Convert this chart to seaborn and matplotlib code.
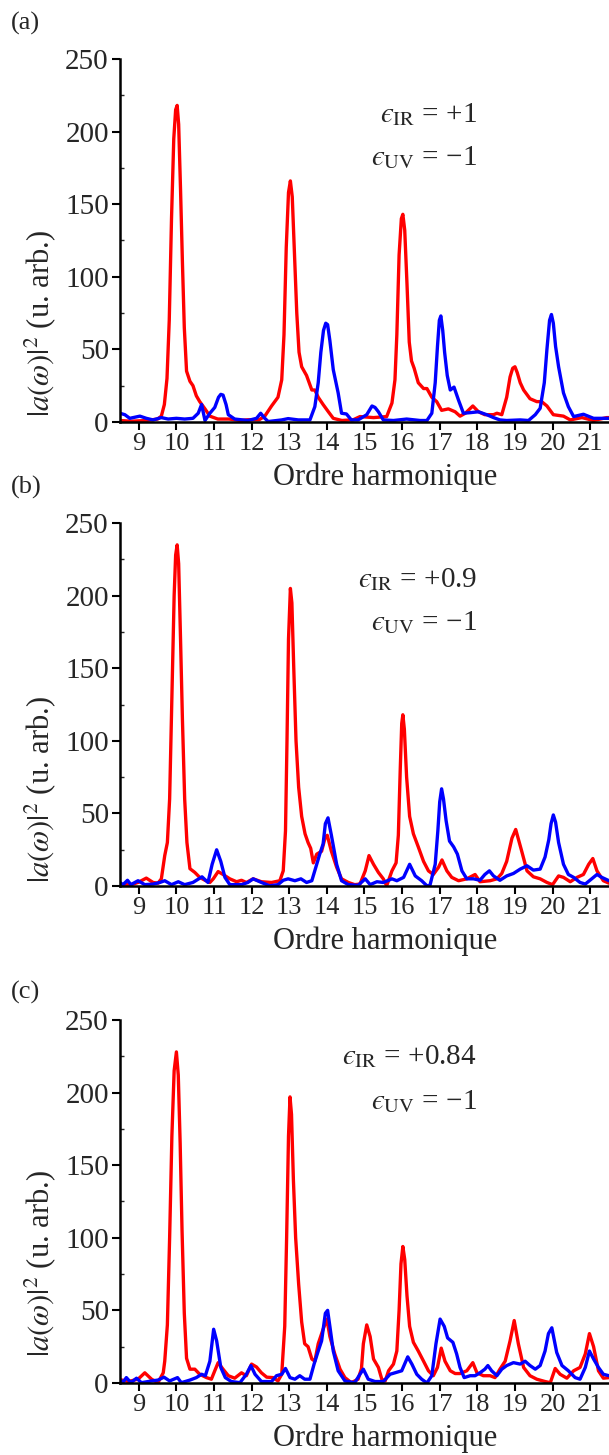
import numpy as np
import pandas as pd
import matplotlib.pyplot as plt
import seaborn as sns
from matplotlib.ticker import MultipleLocator

# panel (a): eps_IR = +1
red_a_x = [8.5, 8.8, 9.2, 9.5, 9.6, 9.68, 9.75, 9.81, 9.87, 9.93, 9.98, 10.02, 10.06, 10.11, 10.16, 10.21, 10.27, 10.36, 10.44, 10.53,
           10.62, 10.76, 10.89, 11.1, 11.4, 11.7, 11.9, 12.2, 12.35, 12.53, 12.7, 12.8, 12.86, 12.92, 12.98, 13.03, 13.08, 13.14, 13.2, 13.26,
           13.33, 13.46, 13.6, 13.68, 13.77, 13.9, 14.04, 14.17, 14.4, 14.7, 14.88, 15.24, 15.59, 15.73, 15.81, 15.86, 15.92, 15.98, 16.02, 16.07,
           16.13, 16.19, 16.25, 16.32, 16.43, 16.57, 16.66, 16.79, 16.92, 17.05, 17.23, 17.41, 17.54, 17.68, 17.88, 18.03, 18.2, 18.43, 18.52, 18.65,
           18.78, 18.87, 18.94, 19.0, 19.06, 19.14, 19.23, 19.4, 19.58, 19.71, 19.85, 20.02, 20.29, 20.47, 20.78, 21.09, 21.44, 21.5]
red_a_y = [1, 0.5, 1, 2, 4, 12, 30, 70, 140, 195, 215, 218, 205, 160, 110, 65, 35, 28, 25, 18,
           14, 9, 4, 2, 2, 1, 1.5, 1.5, 4, 11, 17, 29, 60, 120, 158, 166, 155, 115, 75, 48,
           38, 32, 22, 22, 17, 12, 7, 2.5, 1, 1.5, 3.7, 3, 3.7, 13, 29, 60, 115, 140, 143, 132,
           95, 55, 42, 37, 27, 23, 23, 17, 14, 8, 9, 7, 4, 6, 11, 7, 5, 5, 6, 5,
           17, 31, 37, 38, 34, 27, 22, 16, 14, 14, 11, 5, 4, 1.4, 3, 1, 3, 3]
blue_a_x = [8.5, 8.63, 8.76, 9.03, 9.2, 9.38, 9.6, 9.78, 10.0, 10.22, 10.44, 10.58, 10.67, 10.76, 10.89, 11.02, 11.12, 11.18, 11.24, 11.32,
            11.38, 11.55, 11.9, 12.13, 12.24, 12.35, 12.44, 12.8, 12.97, 13.24, 13.55, 13.68, 13.77, 13.84, 13.91, 13.97, 14.02, 14.08, 14.17, 14.3,
            14.39, 14.52, 14.65, 14.83, 15.06, 15.2, 15.28, 15.37, 15.5, 15.77, 16.12, 16.48, 16.66, 16.79, 16.88, 16.94, 16.99, 17.03, 17.08, 17.13,
            17.2, 17.28, 17.38, 17.5, 17.63, 17.81, 18.03, 18.25, 18.43, 18.6, 18.78, 19.14, 19.36, 19.54, 19.67, 19.78, 19.85, 19.92, 19.97, 20.02,
            20.08, 20.16, 20.29, 20.42, 20.56, 20.82, 21.09, 21.5]
blue_a_y = [6, 5, 2.5, 4, 2.5, 1.4, 3, 2, 2.5, 2, 2.5, 6, 12, 1, 6, 10, 17, 19, 18.5, 12,
            5, 2, 1, 2.5, 6, 2.5, 0.3, 1.4, 2.3, 1.4, 1.4, 10.5, 27, 48, 63, 68, 67, 56, 36, 20,
            6, 5.5, 1.4, 1.4, 5, 11, 10, 7, 1.4, 1, 2, 1, 1, 6, 27, 52, 70, 73, 63, 48,
            32, 22, 24, 15, 6, 6.4, 7, 5, 3, 1.4, 1, 1.4, 1, 5, 9.4, 27, 50, 70, 74, 68,
            52, 38, 20, 10.5, 3.7, 5.3, 2.5, 2.5]

# panel (b): eps_IR = +0.9
red_b_x = [8.5, 8.8, 8.98, 9.2, 9.38, 9.51, 9.6, 9.69, 9.76, 9.82, 9.88, 9.94, 9.98, 10.02, 10.06, 10.11, 10.16, 10.22, 10.28, 10.36,
           10.49, 10.62, 10.76, 10.89, 10.98, 11.11, 11.24, 11.42, 11.6, 11.73, 11.86, 12.04, 12.26, 12.53, 12.75, 12.84, 12.9, 12.94, 12.98, 13.03,
           13.07, 13.12, 13.18, 13.25, 13.33, 13.42, 13.5, 13.57, 13.64, 13.73, 13.86, 13.95, 14.01, 14.12, 14.26, 14.39, 14.57, 14.74, 14.88, 15.02,
           15.12, 15.24, 15.37, 15.5, 15.59, 15.73, 15.84, 15.9, 15.95, 15.99, 16.02, 16.06, 16.12, 16.2, 16.3, 16.43, 16.57, 16.7, 16.83, 16.97,
           17.06, 17.19, 17.32, 17.5, 17.72, 17.94, 18.07, 18.34, 18.52, 18.65, 18.78, 18.92, 19.02, 19.18, 19.32, 19.49, 19.67, 19.85, 20.0, 20.16,
           20.29, 20.47, 20.65, 20.82, 20.96, 21.07, 21.18, 21.35, 21.5]
red_b_y = [1, 1, 2.5, 5.5, 2.5, 2, 5, 21, 30, 60, 130, 200, 228, 235, 222, 170, 115, 60, 30, 12,
           9.4, 6, 4, 2.5, 5, 10, 8, 5, 3, 4, 2.5, 5, 3, 2.5, 3.7, 10.5, 38, 100, 170, 205,
           195, 150, 100, 68, 48, 36, 30, 26, 16, 22, 24, 33, 35, 24, 13, 5, 2.5, 1, 1.4, 10.5,
           21, 15, 9.4, 5, 0.2, 10.5, 16, 35, 80, 112, 118, 108, 75, 48, 36, 27, 17, 10.5, 8, 13,
           18, 10.5, 6, 3.7, 5, 8, 3, 3.7, 5, 8.7, 17, 33, 39, 24, 10.5, 6.4, 5, 2.5, 1, 7,
           6, 3, 6, 8, 15, 19, 10.5, 3.7, 2]
blue_b_x = [8.5, 8.58, 8.7, 8.79, 8.98, 9.16, 9.38, 9.56, 9.69, 9.87, 10.05, 10.22, 10.44, 10.68, 10.84, 10.95, 11.07, 11.18, 11.29, 11.42,
            11.73, 11.9, 12.04, 12.26, 12.48, 12.7, 12.84, 12.97, 13.15, 13.31, 13.46, 13.6, 13.73, 13.81, 13.9, 13.96, 14.03, 14.12, 14.26, 14.39,
            14.57, 14.83, 15.02, 15.15, 15.33, 15.5, 15.73, 15.86, 16.04, 16.2, 16.35, 16.52, 16.66, 16.74, 16.88, 16.95, 17.0, 17.05, 17.1, 17.17,
            17.26, 17.37, 17.47, 17.59, 17.72, 17.9, 18.07, 18.2, 18.32, 18.43, 18.6, 18.78, 18.96, 19.14, 19.32, 19.49, 19.67, 19.8, 19.9, 19.96,
            20.02, 20.08, 20.16, 20.29, 20.42, 20.56, 20.73, 20.87, 21.04, 21.18, 21.31, 21.5]
blue_b_y = [2.5, 1, 4, 1, 3.7, 1, 1.4, 2.5, 3.7, 1, 3, 1, 2.5, 6.4, 2.5, 15, 25, 17, 6, 1,
            1, 2.5, 5, 2.5, 0.2, 1, 4, 5, 3.7, 5, 2.5, 3.7, 15, 22, 29, 43, 47, 35, 15, 3.7,
            1, 0.5, 5, 1, 3, 2.5, 5, 3.7, 6, 15, 7, 3.7, 0.2, 0.5, 15, 38, 58, 67, 60, 45,
            31, 27, 22, 10.5, 5, 5, 4, 8, 10.5, 7, 4, 7, 8.7, 11.7, 14, 11, 11.7, 20, 32, 43,
            49, 44, 30, 15, 8, 6, 2.5, 1.4, 5, 8, 6, 3.7]

# panel (c): eps_IR = +0.84
red_c_x = [8.5, 8.72, 8.98, 9.16, 9.34, 9.51, 9.65, 9.69, 9.76, 9.82, 9.88, 9.94, 10.0, 10.05, 10.1, 10.15, 10.21, 10.27, 10.36, 10.49,
           10.62, 10.8, 10.93, 11.02, 11.11, 11.24, 11.38, 11.55, 11.73, 11.86, 12.0, 12.13, 12.26, 12.4, 12.57, 12.7, 12.8, 12.88, 12.93, 12.98,
           13.02, 13.06, 13.11, 13.17, 13.25, 13.33, 13.41, 13.5, 13.6, 13.68, 13.77, 13.9, 14.0, 14.08, 14.21, 14.35, 14.48, 14.65, 14.83, 14.92,
           14.97, 15.06, 15.15, 15.24, 15.37, 15.46, 15.55, 15.64, 15.77, 15.86, 15.92, 15.97, 16.02, 16.07, 16.13, 16.2, 16.3, 16.43, 16.57, 16.7,
           16.83, 16.94, 17.04, 17.14, 17.28, 17.41, 17.54, 17.72, 17.88, 17.99, 18.16, 18.34, 18.47, 18.6, 18.74, 18.87, 18.98, 19.09, 19.23, 19.4,
           19.58, 19.8, 19.94, 20.07, 20.2, 20.38, 20.56, 20.73, 20.87, 20.98, 21.09, 21.22, 21.35, 21.5]
red_c_y = [2.3, 1, 2.6, 7, 2.6, 0.2, 7, 15, 40, 100, 170, 215, 228, 212, 165, 105, 48, 17, 9.5, 9.5,
           6, 3.7, 2.6, 8.4, 14, 9.5, 5, 3.3, 7, 5, 13, 11, 7, 4, 3.7, 1.4, 6, 39, 100, 170,
           197, 185, 140, 100, 68, 42, 27, 25, 16.5, 15, 27, 37, 44, 32, 20, 9.5, 3.7, 0.2, 2.6, 10,
           27, 40, 32, 16.5, 10.7, 2.6, 1.4, 8.4, 13, 22, 50, 82, 94, 85, 60, 39, 28, 22, 15, 8.4,
           5, 10.7, 24, 15, 8.4, 6.5, 6.5, 8.4, 14, 7, 5, 5, 3.7, 9.5, 15, 29, 43, 27, 10.7, 5,
           2.6, 1, 0.2, 10, 6, 3.3, 8.4, 10.7, 20, 34, 25, 8.4, 3.3, 3.7]
blue_c_x = [8.5, 8.58, 8.67, 8.79, 8.94, 9.07, 9.34, 9.51, 9.67, 9.82, 10.03, 10.13, 10.36, 10.53, 10.67, 10.77, 10.89, 10.99, 11.07, 11.18,
            11.3, 11.46, 11.69, 11.86, 11.98, 12.09, 12.26, 12.53, 12.66, 12.8, 12.9, 13.02, 13.15, 13.28, 13.41, 13.55, 13.66, 13.77, 13.86, 13.96,
            14.02, 14.08, 14.17, 14.3, 14.48, 14.74, 14.88, 14.97, 15.1, 15.28, 15.5, 15.68, 15.81, 15.99, 16.15, 16.26, 16.39, 16.52, 16.66, 16.79,
            16.9, 17.01, 17.12, 17.21, 17.35, 17.45, 17.54, 17.65, 17.81, 17.94, 18.07, 18.2, 18.28, 18.38, 18.52, 18.65, 18.78, 18.96, 19.14, 19.27,
            19.4, 19.54, 19.67, 19.8, 19.89, 19.98, 20.11, 20.25, 20.42, 20.6, 20.73, 20.87, 20.98, 21.09, 21.22, 21.35, 21.5]
blue_c_y = [2, 0.5, 3.7, 0.2, 3.3, 0.2, 1.4, 2, 4, 1.4, 3.7, 0.2, 2, 3.7, 6, 5, 15, 37, 29, 10.7,
            3.7, 1, 0.2, 6, 12, 6, 1, 1, 5, 6, 10, 3.7, 2.6, 5, 2.6, 2.6, 13, 22, 29, 48,
            50, 39, 22, 8.4, 1.4, 0.2, 6, 9.5, 2.6, 1, 1, 6, 7, 8.4, 18, 13, 6, 2.6, 0, 5,
            27, 44, 39, 31, 28, 20, 10.7, 3.7, 5, 5, 7, 9.5, 12, 8.4, 5, 9.5, 12, 14, 13, 15,
            12, 9.5, 12, 22, 34, 38, 21, 12, 8.4, 3.7, 2.6, 10.7, 22, 16.5, 10.7, 6, 5]

panel_tags = ['(a)', '(b)', '(c)']
eps_ir = ['+1', '+0.9', '+0.84']
harmonics = list(range(9, 22))

sns.set_style('ticks')
plt.rcParams['font.family'] = ['Liberation Serif', 'DejaVu Serif']
plt.rcParams['mathtext.fontset'] = 'stix'

fig = plt.figure(figsize=(6.09, 14.55), dpi=100)

bottoms = [0.710, 0.391, 0.0495]
text_y = [(0.846, 0.727), (0.843, 0.725), (0.90, 0.776)]
ylab_y = [0.27, 0.267, 0.33]
tag_y = [0.984, 0.665, 0.318]
curves = [(red_a_x, red_a_y, blue_a_x, blue_a_y),
          (red_b_x, red_b_y, blue_b_x, blue_b_y),
          (red_c_x, red_c_y, blue_c_x, blue_c_y)]

for i, (rx, ry, bx, by) in enumerate(curves):
    ax = fig.add_axes([0.197, bottoms[i], 0.803, 0.2495])
    sns.lineplot(x=rx, y=ry, color='#ff0000', lw=2.4, ax=ax, estimator=None, sort=False)
    sns.lineplot(x=bx, y=by, color='#0000ff', lw=2.4, ax=ax, estimator=None, sort=False)
    ax.set_xlim(8.5, 21.5)
    ax.set_ylim(0, 250)
    ax.set_xticks(harmonics)
    ax.set_yticks(range(0, 251, 50))
    ax.yaxis.set_minor_locator(MultipleLocator(25))
    ax.tick_params(which='major', direction='out', length=6, width=1.5, pad=2, color='black')
    ax.tick_params(axis='x', labelsize=19)
    ax.tick_params(axis='y', labelsize=21)
    ax.tick_params(axis='y', which='minor', direction='in', length=3, width=1)
    sns.despine(ax=ax)
    for s in ['left', 'bottom']:
        ax.spines[s].set_linewidth(1.8)
        ax.spines[s].set_color('black')
    ax.set_xlabel('Ordre harmonique', fontsize=22)
    ax.xaxis.set_label_coords(0.542, -0.112)
    ax.set_ylabel(r'$|a(\omega)|^2$ (u. arb.)', fontsize=22)
    ax.yaxis.set_label_coords(-0.127, ylab_y[i])
    ax.text(0.73, text_y[i][0], r'$ϵ_{\mathrm{IR}}$ = ' + eps_ir[i], transform=ax.transAxes,
            ha='right', va='center', fontsize=21)
    ax.text(0.73, text_y[i][1], r'$ϵ_{\mathrm{UV}}$ = −1', transform=ax.transAxes,
            ha='right', va='center', fontsize=21)
    fig.text(0.018, tag_y[i], panel_tags[i], fontsize=19, ha='left', va='center')

plt.savefig('out.png', dpi=100)
